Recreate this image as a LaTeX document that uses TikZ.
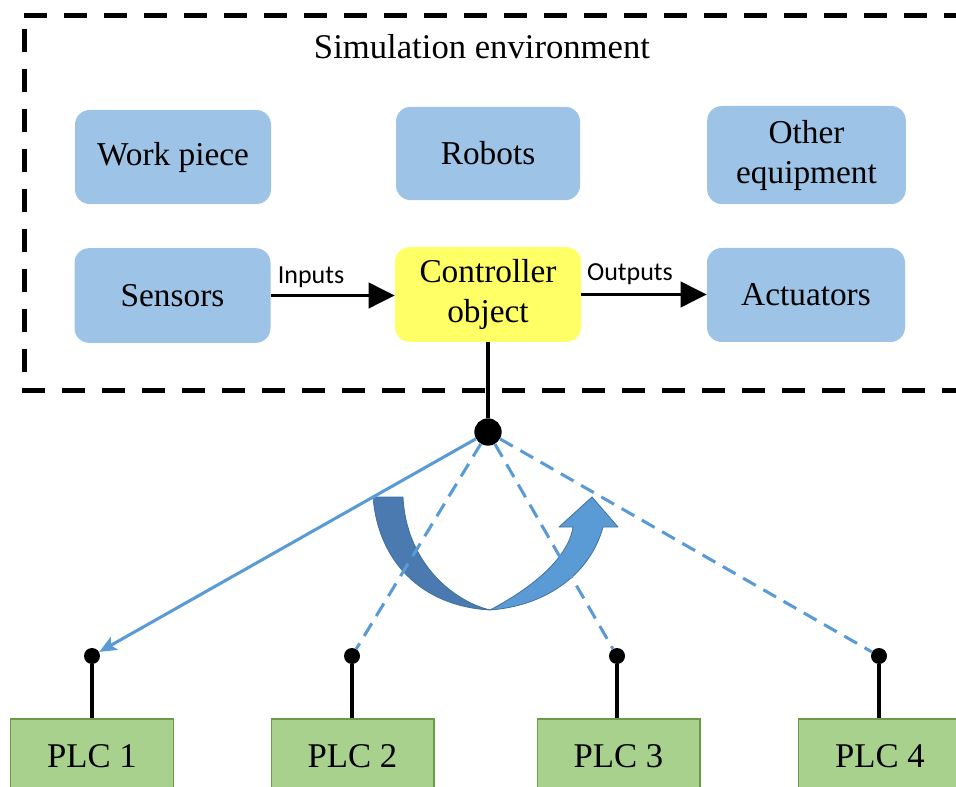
\documentclass[tikz,border=0pt]{standalone}
\usepackage{fontspec}
\setmainfont{Liberation Serif}
\newfontfamily\labelfont{Carlito}
\usetikzlibrary{arrows.meta}

\definecolor{boxblue}{HTML}{9DC3E6}
\definecolor{ctrlyellow}{HTML}{FFFF66}
\definecolor{plcgreen}{HTML}{A9D18E}
\definecolor{plcedge}{HTML}{6A9A4A}
\definecolor{linkblue}{HTML}{5B9BD5}
\definecolor{turndark}{HTML}{4A7AB0}
\definecolor{turnlight}{HTML}{5B9BD5}
\definecolor{turnedge}{HTML}{41719C}

\begin{document}
\begin{tikzpicture}[x=0.75pt,y=-0.75pt,
  envframe/.style={line width=3.75pt, dash pattern=on 17.25pt off 12.75pt},
  blubox/.style={fill=boxblue, rounded corners=11pt, align=center,
    font=\fontsize{25}{30}\selectfont, inner sep=0pt},
  ctrlbox/.style={blubox, fill=ctrlyellow},
  plcbox/.style={draw=plcedge, line width=1pt, fill=plcgreen, inner sep=0pt,
    minimum width=122pt, minimum height=55.5pt, font=\fontsize{26}{30}\selectfont},
  flow/.style={line width=2pt, -{Triangle[length=19.5pt,width=19pt]}},
  flowlbl/.style={font=\labelfont\fontsize{19.5}{22}\selectfont, inner sep=0pt},
  hubdot/.style={circle, fill=black, inner sep=0pt, minimum size=20.5pt},
  pindot/.style={circle, fill=black, inner sep=0pt, minimum size=12pt},
  stem/.style={line width=2.3pt},
  link/.style={draw=linkblue, line width=2.3pt},
  dlink/.style={link, dash pattern=on 11pt off 6.5pt},
  turnpart/.style={draw=turnedge, line width=0.6pt, line join=round}
]
\useasboundingbox (0,0) rectangle (956,787);
\clip (0,0) rectangle (956,787);

% dashed frame of the simulation environment (open to the right)
\draw[envframe] (24,16) -- (975,16);
\draw[envframe] (24,29) -- (24,391);
\draw[envframe] (22,391) -- (975,391);
\node[font=\fontsize{26}{30}\selectfont, inner sep=0pt] (title) at (482,47) {Simulation environment};

% simulation objects
\node[blubox, minimum width=147pt, minimum height=70.5pt] (work)  at (173,157)   {Work piece};
\node[blubox, minimum width=138pt, minimum height=70pt]   (robot) at (488,153.5) {Robots};
\node[blubox, minimum width=149pt, minimum height=73.5pt] (other) at (806.5,155) {Other\\equipment};
\node[blubox, minimum width=147pt, minimum height=71pt]   (sens)  at (172.5,295.5) {Sensors};
\node[ctrlbox, minimum width=139.5pt, minimum height=71pt] (ctrl) at (488,294.5) {Controller\\object};
\node[blubox, minimum width=148.5pt, minimum height=70.5pt] (act) at (806,295)   {Actuators};

% signal flow through the controller object
\draw[flow] (sens.east) -- (sens.east -| ctrl.west);
\draw[flow] (ctrl.east) -- (ctrl.east -| act.west);
\node[flowlbl] (inlbl)  at (311,277) {Inputs};
\node[flowlbl] (outlbl) at (630,274) {Outputs};

% U-turn arrow: dark descending half, light rising half with head
\filldraw[turnpart, fill=turndark] (373,497) .. controls (378,560) and (420,606) .. (490,610)
  .. controls (450,600) and (406,560) .. (403,497) -- cycle;
\filldraw[turnpart, fill=turnlight] (490,610) .. controls (545,606) and (590,575) .. (603,527)
  -- (618,527) -- (592,497) -- (559,527) -- (573,527)
  .. controls (568,560) and (528,590) .. (490,610) -- cycle;

% connection hub and PLC taps
\node[hubdot] (hub) at (488,432) {};
\node[pindot] (d1) at (92,656) {};
\node[pindot] (d2) at (352,656) {};
\node[pindot] (d3) at (617,656) {};
\node[pindot] (d4) at (879,656) {};
\draw[stem] (ctrl.south) -- (hub);

\draw[link, -{Stealth[length=13pt,width=11pt,inset=3pt]}] (hub) -- (d1);
\draw[dlink] (hub) -- (d2);
\draw[dlink] (hub) -- (d3);
\draw[dlink] (hub) -- (d4);

% PLCs
\node[plcbox] (plc1) at (92,756)  {PLC 1};
\node[plcbox] (plc2) at (352.5,756) {PLC 2};
\node[plcbox] (plc3) at (618.5,756) {PLC 3};
\node[plcbox] (plc4) at (880,756) {PLC 4};
\draw[stem] (d1) -- (d1 |- plc1.north);
\draw[stem] (d2) -- (d2 |- plc2.north);
\draw[stem] (d3) -- (d3 |- plc3.north);
\draw[stem] (d4) -- (d4 |- plc4.north);
\end{tikzpicture}
\end{document}
